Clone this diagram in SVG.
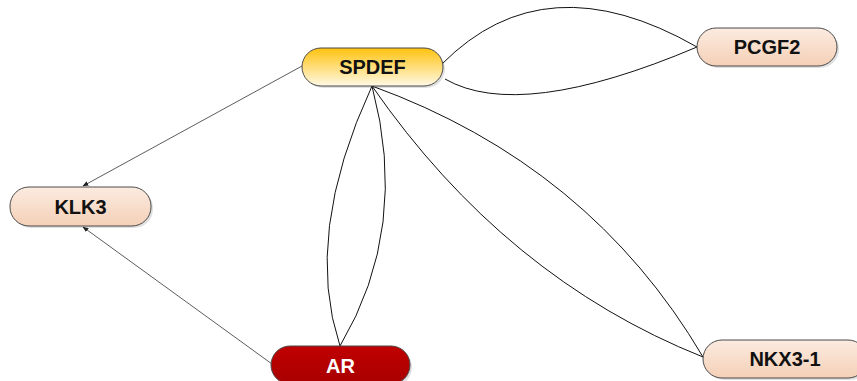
<svg xmlns="http://www.w3.org/2000/svg" width="857" height="381" viewBox="0 0 857 381">
  <defs>
    <linearGradient id="gYellow" x1="0" y1="0" x2="0" y2="1">
      <stop offset="0" stop-color="#FFC20E"/>
      <stop offset="1" stop-color="#FFF9E6"/>
    </linearGradient>
    <linearGradient id="gPeach" x1="0" y1="0" x2="0" y2="1">
      <stop offset="0" stop-color="#FCEBE0"/>
      <stop offset="1" stop-color="#F4D0B7"/>
    </linearGradient>
    <linearGradient id="gRed" x1="0" y1="0" x2="0" y2="1">
      <stop offset="0" stop-color="#C00000"/>
      <stop offset="1" stop-color="#A80000"/>
    </linearGradient>
    <marker id="arrow" viewBox="0 0 10 10" refX="9" refY="5" markerWidth="6" markerHeight="6" orient="auto" markerUnits="userSpaceOnUse">
      <path d="M0,1 L10,5 L0,9 Z" fill="#222"/>
    </marker>
  </defs>
  <style>
    .node rect.body { stroke: #4a4a4a; stroke-width: 1; }
    .node rect.shadow { fill: #000; opacity: 0.12; }
    .node text { font-family: "Liberation Sans", Arial, sans-serif; font-weight: bold; font-size: 20px; text-anchor: middle; fill: #111; }
    .node text.light { fill: #fff; }
    .edges path { fill: none; stroke: #111; stroke-width: 1; }
    .edges path.reg { stroke: #333; stroke-width: 0.8; marker-end: url(#arrow); }
  </style>

  <g class="edges" id="edges">
    <!-- regulation edges into KLK3 -->
    <path class="reg" d="M302,66 L83,186"/>
    <path class="reg" d="M272,364 L83,227"/>
    <!-- SPDEF - PCGF2 -->
    <path d="M442,64 Q545,-40 697,47"/>
    <path d="M445,79 Q520,122 697,47"/>
    <!-- SPDEF - AR -->
    <path d="M372,86 Q303,235 340,346"/>
    <path d="M372,86 Q410,228 340,346"/>
    <!-- SPDEF - NKX3-1 -->
    <path d="M372,86 Q590,165 703,357"/>
    <path d="M372,86 Q505,278 703,357"/>
  </g>

  <g class="node" id="SPDEF">
    <rect class="shadow" x="304" y="50" width="141" height="38" rx="19"/>
    <rect class="body" x="302" y="48" width="141" height="38" rx="19" fill="url(#gYellow)"/>
    <text x="372.5" y="73.5">SPDEF</text>
  </g>

  <g class="node" id="PCGF2">
    <rect class="shadow" x="699" y="30" width="140" height="38" rx="19"/>
    <rect class="body" x="697" y="28" width="140" height="38" rx="19" fill="url(#gPeach)"/>
    <text x="767" y="54">PCGF2</text>
  </g>

  <g class="node" id="KLK3">
    <rect class="shadow" x="12" y="189" width="141" height="39" rx="19"/>
    <rect class="body" x="10" y="187" width="141" height="39" rx="19" fill="url(#gPeach)"/>
    <text x="80.5" y="213.5">KLK3</text>
  </g>

  <g class="node" id="AR">
    <rect class="shadow" x="273" y="348" width="139" height="38" rx="19"/>
    <rect class="body" x="271" y="346" width="139" height="38" rx="19" fill="url(#gRed)"/>
    <text class="light" x="340.5" y="372.5">AR</text>
  </g>

  <g class="node" id="NKX3-1">
    <rect class="shadow" x="705" y="342" width="164" height="38" rx="19"/>
    <rect class="body" x="703" y="340" width="164" height="38" rx="19" fill="url(#gPeach)"/>
    <text x="785" y="366">NKX3-1</text>
  </g>
</svg>
